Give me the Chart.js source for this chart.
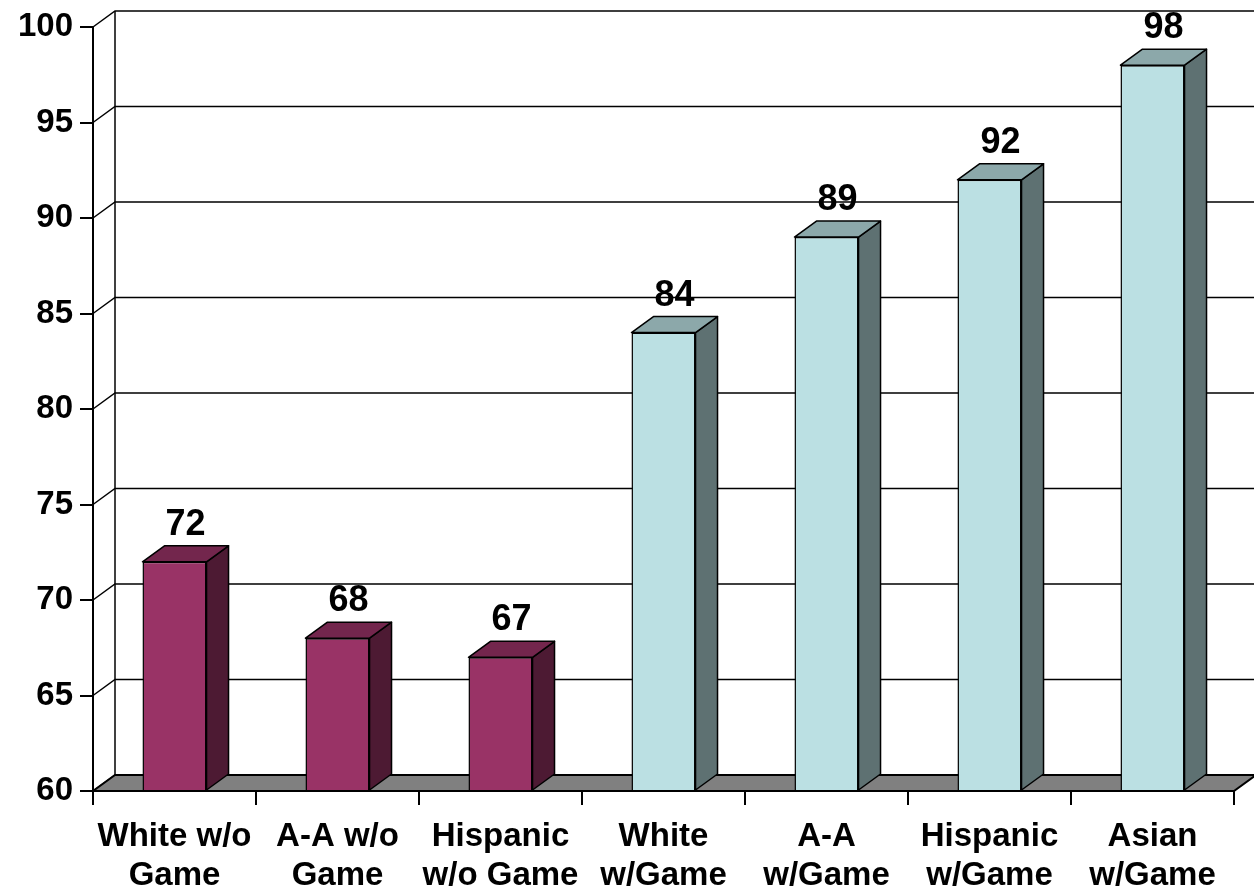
<!DOCTYPE html>
<html>
<head>
<meta charset="utf-8">
<script src="https://cdn.jsdelivr.net/npm/chart.js@4/dist/chart.umd.min.js"></script>
<style>
  body { margin: 0; background: #fff; }
  #wrap { width: 1254px; height: 890px; }
</style>
</head>
<body>
<div id="wrap"><canvas id="myChart" width="1254" height="890"></canvas></div>
<script>
var categories = [['White w/o', 'Game'], ['A-A w/o', 'Game'], ['Hispanic', 'w/o Game'], ['White', 'w/Game'], ['A-A', 'w/Game'], ['Hispanic', 'w/Game'], ['Asian', 'w/Game']];
var scores = [72, 68, 67, 84, 89, 92, 98];
var groups = ['without', 'without', 'without', 'with', 'with', 'with', 'with'];
var yTicks = [60, 65, 70, 75, 80, 85, 90, 95, 100];

// face colours per group: front, top, side
var palette = {
    without: { front: '#993366', top: '#73264D', side: '#4D1A33' },
    with: { front: '#BBE0E3', top: '#8CA8AA', side: '#5E7172' }
};

var DX = 22, DY = 16;
var FAMILY = '"Liberation Sans", Arial, sans-serif';

var depthPlugin = {
    id: 'depth',
    beforeDatasetsDraw: function(chart) {
        var ctx = chart.ctx;
        var a = chart.chartArea;
        var ys = chart.scales.y;
        ctx.save();
        ctx.strokeStyle = '#000';
        ctx.lineWidth = 1.5;
        // back wall grid lines + side wall diagonals
        yTicks.forEach(function(v) {
            var y = ys.getPixelForValue(v);
            ctx.beginPath();
            ctx.moveTo(a.left, y);
            ctx.lineTo(a.left + DX, y - DY);
            if (v > yTicks[0]) ctx.lineTo(a.right + DX, y - DY);
            ctx.stroke();
        });
        ctx.beginPath();
        ctx.moveTo(a.left + DX, a.top - DY);
        ctx.lineTo(a.left + DX, a.bottom - DY);
        ctx.stroke();
        // floor
        ctx.beginPath();
        ctx.moveTo(a.left, a.bottom);
        ctx.lineTo(a.right, a.bottom);
        ctx.lineTo(a.right + DX, a.bottom - DY);
        ctx.lineTo(a.left + DX, a.bottom - DY);
        ctx.closePath();
        ctx.fillStyle = '#808080';
        ctx.fill();
        ctx.lineWidth = 2;
        ctx.stroke();
        ctx.restore();
    },
    afterDatasetsDraw: function(chart) {
        var ctx = chart.ctx;
        var a = chart.chartArea;
        var meta = chart.getDatasetMeta(0);
        ctx.save();
        ctx.strokeStyle = '#000';
        ctx.lineWidth = 1.5;
        ctx.lineJoin = 'round';
        meta.data.forEach(function(bar, i) {
            var c = palette[groups[i]];
            var l = bar.x - bar.width / 2, r = bar.x + bar.width / 2;
            var t = bar.y, b = Math.min(bar.base, a.bottom);
            // side
            ctx.beginPath();
            ctx.moveTo(r, t);
            ctx.lineTo(r + DX, t - DY);
            ctx.lineTo(r + DX, b - DY);
            ctx.lineTo(r, b);
            ctx.closePath();
            ctx.fillStyle = c.side;
            ctx.fill();
            ctx.stroke();
            // top
            ctx.beginPath();
            ctx.moveTo(l, t);
            ctx.lineTo(l + DX, t - DY);
            ctx.lineTo(r + DX, t - DY);
            ctx.lineTo(r, t);
            ctx.closePath();
            ctx.fillStyle = c.top;
            ctx.fill();
            ctx.stroke();
            // value label
            ctx.fillStyle = '#000';
            ctx.font = 'bold 36px ' + FAMILY;
            ctx.textAlign = 'center';
            ctx.textBaseline = 'alphabetic';
            ctx.fillText(String(scores[i]), bar.x + DX / 2, t - DY - 11);
        });
        // front edge of the floor over the bar bottoms
        ctx.lineWidth = 2;
        ctx.beginPath();
        ctx.moveTo(a.left, a.bottom);
        ctx.lineTo(a.right, a.bottom);
        ctx.stroke();
        ctx.restore();
    }
};

window.addEventListener('load', function() {
    var ctx = document.getElementById('myChart').getContext('2d');
    var chart = new Chart(ctx, {
        type: 'bar',
        data: {
            labels: categories,
            datasets: [{
                data: scores,
                base: 60,
                backgroundColor: groups.map(function(g) { return palette[g].front; }),
                borderColor: '#000',
                borderWidth: 1.5,
                barPercentage: 0.393,
                categoryPercentage: 1
            }]
        },
        options: {
            responsive: false,
            animation: false,
            layout: { padding: { top: 27, right: 20, left: 0, bottom: 0 } },
            plugins: { legend: { display: false }, tooltip: { enabled: false } },
            scales: {
                y: {
                    min: 60,
                    max: 100,
                    afterFit: function(s) { s.width = 93; },
                    afterBuildTicks: function(s) { s.ticks = yTicks.map(function(v) { return { value: v }; }); },
                    border: { display: true, color: '#000', width: 2 },
                    grid: { drawOnChartArea: false, drawTicks: true, tickLength: 13, color: '#000', lineWidth: 2 },
                    ticks: { color: '#000', padding: 7, font: { family: FAMILY, size: 33, weight: 'bold' } }
                },
                x: {
                    afterFit: function(s) { s.height = 99; },
                    border: { display: false },
                    grid: { offset: true, drawOnChartArea: false, drawTicks: true, tickLength: 14, color: '#000', lineWidth: 2 },
                    ticks: { color: '#000', padding: 12, maxRotation: 0, autoSkip: false, font: { family: FAMILY, size: 33, weight: 'bold', lineHeight: 1.18 } }
                }
            }
        },
        plugins: [depthPlugin]
    });
});
</script>
</body>
</html>
